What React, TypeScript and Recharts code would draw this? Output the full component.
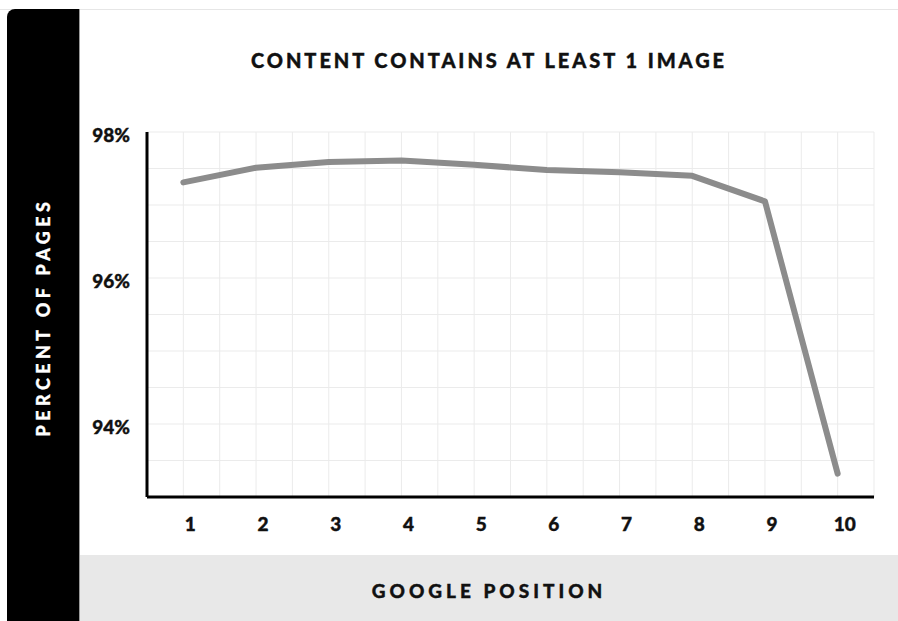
import React from 'react';
import { LineChart, Line, XAxis, YAxis, CartesianGrid } from 'recharts';

const positions = [1, 2, 3, 4, 5, 6, 7, 8, 9, 10];
const percentWithImage = [97.31, 97.51, 97.59, 97.61, 97.55, 97.48, 97.45, 97.4, 97.05, 93.32];
const xGridTicks = [0.5, 1, 1.5, 2, 2.5, 3, 3.5, 4, 4.5, 5, 5.5, 6, 6.5, 7, 7.5, 8, 8.5, 9, 9.5, 10, 10.5];
const yGridTicks = [93, 93.5, 94, 94.5, 95, 95.5, 96, 96.5, 97, 97.5, 98];
const yLabelTicks = [94, 96, 98];
const title = 'CONTENT CONTAINS AT LEAST 1 IMAGE';
const xTitle = 'GOOGLE POSITION';
const yTitle = 'PERCENT OF PAGES';

const data = positions.map((p, i) => ({ position: p, value: percentWithImage[i] }));

const FONT = 'Lato, "Open Sans", sans-serif';

const XTick = (props: any) => {
  const { x, y, payload } = props;
  if (!positions.includes(payload.value)) return null;
  return (
    <text x={x + 7} y={y + 34} textAnchor="middle" fontFamily={FONT} fontWeight={900} fontSize={19} fill="#111" stroke="#111" strokeWidth={0.4}>
      {payload.value}
    </text>
  );
};

const YTick = (props: any) => {
  const { x, y, payload } = props;
  if (!yLabelTicks.includes(payload.value)) return null;
  return (
    <text x={x - 17} y={y + 10} textAnchor="end" fontFamily={FONT} fontWeight={900} fontSize={19} fill="#111" stroke="#111" strokeWidth={0.4}>
      {payload.value + '%'}
    </text>
  );
};

export default function App() {
  return (
    <div style={{ position: 'absolute', left: 0, top: 0, width: 898, height: 621, overflow: 'hidden', background: '#fff' }}>
      <div style={{ position: 'absolute', left: 0, top: 9, width: 898, height: 1, background: '#e6e6e6' }} />
      <div style={{ position: 'absolute', left: 7, top: 9, width: 72, height: 612, background: '#000', borderTopLeftRadius: 8 }} />
      <div style={{ position: 'absolute', left: 79, top: 9, width: 1, height: 612, background: '#9a9a9a' }} />
      <div style={{ position: 'absolute', left: 80, top: 555, width: 818, height: 66, background: '#e8e8e8' }} />
      <div style={{ position: 'absolute', left: 0, top: 0 }}>
        <LineChart width={898} height={621} data={data} margin={{ top: 132, right: 24, bottom: 64, left: 0 }}>
          <CartesianGrid stroke="#ebebeb" strokeWidth={1} />
          <XAxis
            dataKey="position"
            type="number"
            domain={[0.5, 10.5]}
            ticks={xGridTicks}
            interval={0}
            height={60}
            axisLine={{ stroke: '#000', strokeWidth: 3 }}
            tickLine={false}
            tickSize={0}
            tickMargin={0}
            tick={<XTick />}
          />
          <YAxis
            type="number"
            domain={[93, 98]}
            ticks={yGridTicks}
            interval={0}
            width={147}
            axisLine={{ stroke: '#000', strokeWidth: 3 }}
            tickLine={false}
            tickSize={0}
            tickMargin={0}
            tick={<YTick />}
          />
          <Line
            dataKey="value"
            stroke="#8c8c8c"
            strokeWidth={6}
            dot={false}
            strokeLinecap="round"
            strokeLinejoin="round"
            isAnimationActive={false}
          />
        </LineChart>
      </div>
      <div style={{ position: 'absolute', left: 80, width: 818, top: 47, textAlign: 'center', fontFamily: FONT, fontWeight: 900, fontSize: 20, letterSpacing: 2.95, color: '#111', lineHeight: '26px', WebkitTextStroke: '0.4px #111' }}>
        {title}
      </div>
      <div style={{ position: 'absolute', left: 80, width: 818, top: 578, textAlign: 'center', fontFamily: FONT, fontWeight: 900, fontSize: 19, letterSpacing: 4, color: '#111', lineHeight: '26px', WebkitTextStroke: '0.4px #111' }}>
        {xTitle}
      </div>
      <div style={{ position: 'absolute', left: 43 - 150, top: 317 - 13, width: 300, height: 26, textAlign: 'center', transform: 'rotate(-90deg)', fontFamily: FONT, fontWeight: 900, fontSize: 18, letterSpacing: 4.4, color: '#fff', lineHeight: '26px', WebkitTextStroke: '0.3px #fff' }}>
        {yTitle}
      </div>
    </div>
  );
}
